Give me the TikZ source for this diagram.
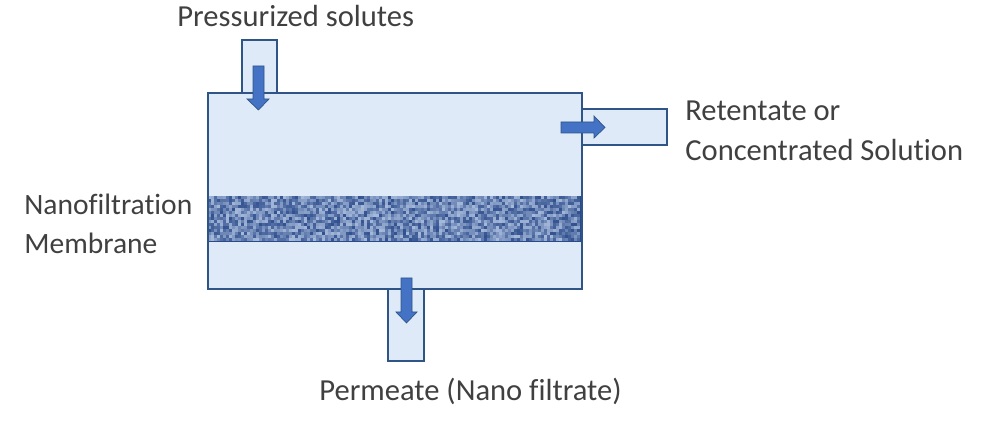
\documentclass[tikz,border=0pt]{standalone}
\usepackage{fontspec}
\setmainfont[Ligatures=NoCommon]{Carlito}
\definecolor{bodyblue}{HTML}{DEEAF7}
\definecolor{edgeblue}{HTML}{2F5587}
\definecolor{arrowblue}{HTML}{4472C4}
\definecolor{weavedark}{HTML}{2A4A8A}
\definecolor{weavelight}{HTML}{C4D5EE}
\tikzset{
  vessel/.style={draw=edgeblue, fill=bodyblue, line width=0.6pt},
  flowarrow/.style={draw=edgeblue, fill=arrowblue, line width=0.4pt},
  lbl/.style={anchor=west, inner sep=0pt, font=\fontsize{17.4}{17.4}\selectfont, text=black!75},
  lblsmall/.style={lbl, font=\fontsize{16.8}{16.8}\selectfont}
}
\begin{document}
\begin{tikzpicture}[x=0.02cm, y=-0.02cm]
        \useasboundingbox (0,0) rectangle (988,442);

        \draw[vessel] (242,40) rectangle (277,93);
        \draw[vessel] (582,109) rectangle (667,145);
        \draw[vessel] (388,289) rectangle (424,361);
        \fill[bodyblue] (208,93) rectangle (582,289);

        % membrane
        \pgfmathsetseed{4711}
        \fill[weavedark] (208,196) rectangle (582,242);
        \foreach \i in {0,...,123} {
          \foreach \j in {0,...,14} {
            \pgfmathsetmacro{\shade}{int(random(5,80))}
            \fill[weavelight!\shade!weavedark] ({208+3*\i}, {196+3*\j+0.2}) rectangle +(2.6,2.6);
          }
        }

        \draw[vessel, fill=none] (208,93) rectangle (582,289);

        \draw[flowarrow] (253,66) -- (264,66) -- (264,99) -- (269,99) -- (258.5,110) -- (247,99) -- (253,99) -- cycle;
        \draw[flowarrow] (561,122) -- (594,122) -- (594,116) -- (605,127.5) -- (594,138) -- (594,133) -- (561,133) -- cycle;
        \draw[flowarrow] (401,278) -- (412,278) -- (412,312) -- (417,312) -- (406.5,323) -- (396,312) -- (401,312) -- cycle;

        \node[lbl] (solutes) at (177,16) {Pressurized solutes};
        \node[lbl] (retentate) at (685,111) {Retentate or};
        \node[lbl] (concentrated) at (685,150) {Concentrated Solution};
        \node[lblsmall] (nanofiltration) at (24,204) {Nanofiltration};
        \node[lblsmall] (membrane) at (24,243) {Membrane};
        \node[lbl] (permeate) at (319,391) {Permeate (Nano filtrate)};
      \end{tikzpicture}
\end{document}
